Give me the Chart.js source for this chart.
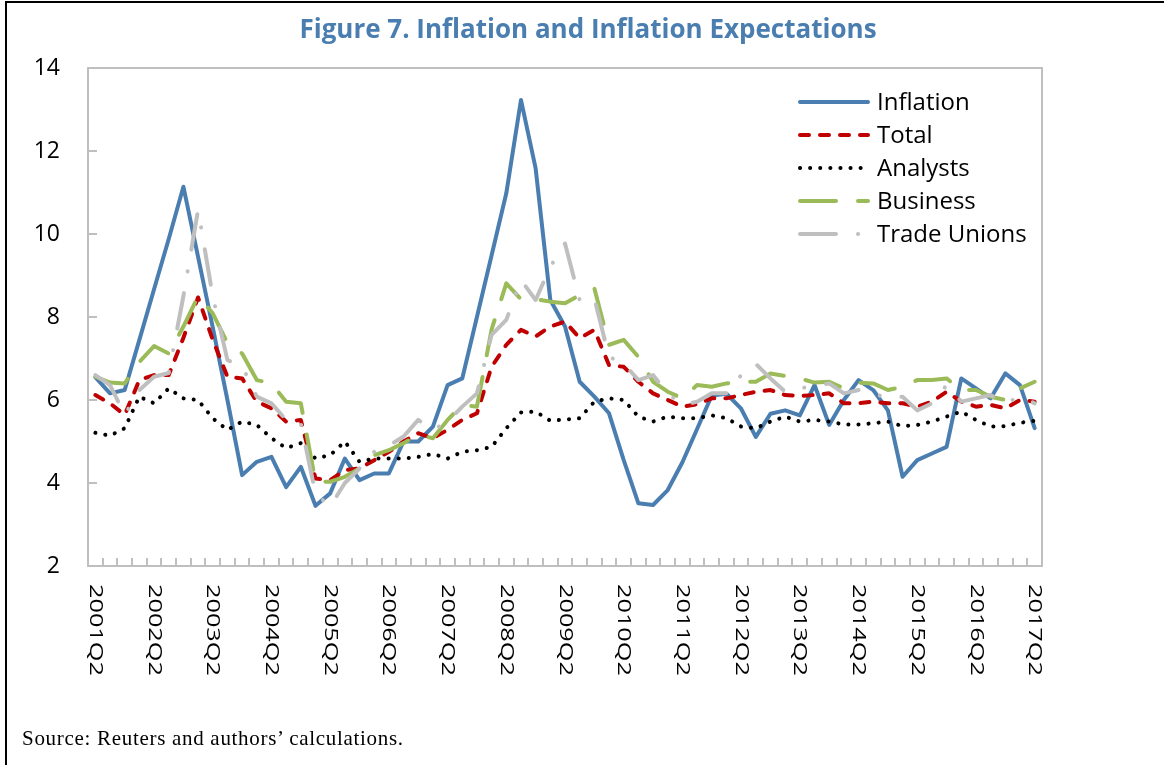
<!DOCTYPE html>
<html>
<head>
<meta charset="utf-8">
<script src="https://cdn.jsdelivr.net/npm/chart.js@4.4.0/dist/chart.umd.min.js"></script>
<style>
  body { margin: 0; background: #fff; }
  #wrap { position: relative; width: 1164px; height: 765px; overflow: hidden; }
  #frame { position: absolute; left: 5px; top: 1px; width: 1200px; height: 800px;
           border-left: 2px solid #000; border-top: 2px solid #000; }
  #title { position: absolute; left: 0; width: 1176px; top: 13px; line-height: 30px; text-align: center;
           font-family: "Open Sans", sans-serif; font-weight: bold; font-size: 26px;
           color: #4a7eb0; white-space: nowrap; }
  #source { position: absolute; left: 22px; top: 726px; letter-spacing: 0.7px;
            font-family: "Liberation Serif", "Times New Roman", serif; font-size: 21px; color: #000; }
  canvas { position: absolute; left: 0; top: 0; }
</style>
</head>
<body>
<div id="wrap">
  <canvas id="myChart" width="1164" height="765"></canvas>
  <div id="frame"></div>
  <div id="title">Figure 7. Inflation and Inflation Expectations</div>
  <div id="source">Source: Reuters and authors’ calculations.</div>
</div>
<script>
const quarters = [
  "2001Q2", "2001Q3", "2001Q4", "2002Q1", "2002Q2", "2002Q3", "2002Q4", "2003Q1",
  "2003Q2", "2003Q3", "2003Q4", "2004Q1", "2004Q2", "2004Q3", "2004Q4", "2005Q1",
  "2005Q2", "2005Q3", "2005Q4", "2006Q1", "2006Q2", "2006Q3", "2006Q4", "2007Q1",
  "2007Q2", "2007Q3", "2007Q4", "2008Q1", "2008Q2", "2008Q3", "2008Q4", "2009Q1",
  "2009Q2", "2009Q3", "2009Q4", "2010Q1", "2010Q2", "2010Q3", "2010Q4", "2011Q1",
  "2011Q2", "2011Q3", "2011Q4", "2012Q1", "2012Q2", "2012Q3", "2012Q4", "2013Q1",
  "2013Q2", "2013Q3", "2013Q4", "2014Q1", "2014Q2", "2014Q3", "2014Q4", "2015Q1",
  "2015Q2", "2015Q3", "2015Q4", "2016Q1", "2016Q2", "2016Q3", "2016Q4", "2017Q1",
  "2017Q2"
];

const inflation = [
  6.55, 6.16, 6.24, 7.45, 8.67, 9.88, 11.14, 9.45, 7.75, 6.0, 4.19, 4.51, 4.63,
  3.9, 4.39, 3.45, 3.75, 4.59, 4.07, 4.23, 4.23, 5.0, 5.0, 5.36, 6.36, 6.52,
  8.0, 9.49, 10.98, 13.23, 11.58, 8.41, 7.77, 6.44, 6.08, 5.68, 4.55, 3.51,
  3.47, 3.83, 4.5, 5.3, 6.11, 6.15, 5.79, 5.11, 5.67, 5.75, 5.63, 6.36, 5.4,
  6.0, 6.48, 6.24, 5.75, 4.15, 4.55, 4.71, 4.87, 6.52, 6.28, 6.04, 6.64, 6.36,
  5.32
];
const total = [
  6.12, 5.92, 5.64, 6.48, 6.6, 6.6, 7.5, 8.47, 7.45, 6.56, 6.52, 5.96, 5.8,
  5.48, 5.52, 4.11, 4.07, 4.31, 4.35, 4.55, 4.75, 5.0, 5.2, 5.08, 5.28, 5.52,
  5.68, 6.8, 7.33, 7.69, 7.53, 7.77, 7.89, 7.49, 7.69, 6.84, 6.8, 6.44, 6.16,
  6.0, 5.84, 5.9, 6.04, 6.04, 6.12, 6.2, 6.24, 6.12, 6.1, 6.12, 6.16, 5.92,
  5.92, 5.96, 5.92, 5.92, 5.84, 5.96, 6.2, 5.96, 5.84, 5.88, 5.8, 6.0, 5.96
];
const analysts = [
  5.21, 5.14, 5.32, 6.08, 5.92, 6.28, 6.04, 6.0, 5.56, 5.28, 5.48, 5.4, 5.08,
  4.84, 4.96, 4.59, 4.67, 5.0, 4.51, 4.59, 4.59, 4.59, 4.63, 4.7, 4.59, 4.75,
  4.79, 4.87, 5.32, 5.7, 5.72, 5.5, 5.53, 5.56, 5.96, 6.04, 6.0, 5.6, 5.48,
  5.6, 5.56, 5.56, 5.63, 5.56, 5.36, 5.32, 5.48, 5.6, 5.48, 5.52, 5.48, 5.41,
  5.41, 5.44, 5.48, 5.37, 5.4, 5.48, 5.6, 5.72, 5.52, 5.36, 5.37, 5.45, 5.5
];
const business = [
  6.56, 6.42, 6.4, 6.92, 7.3, 7.12, 7.77, 8.5, 8.09, 7.37, 7.12, 6.48, 6.4,
  5.96, 5.92, 4.03, 4.03, 4.15, 4.35, 4.67, 4.79, 4.96, 5.16, 5.08, 5.52, 5.88,
  5.84, 7.7, 8.81, 8.43, 8.43, 8.37, 8.33, 8.53, 8.69, 7.33, 7.45, 7.04, 6.44,
  6.2, 6.04, 6.36, 6.32, 6.4, 6.44, 6.44, 6.64, 6.58, 6.52, 6.42, 6.44, 6.28,
  6.42, 6.4, 6.24, 6.32, 6.48, 6.48, 6.52, 6.24, 6.24, 6.08, 6.0, 6.28, 6.44
];
const tradeUnions = [
  6.6, 6.36, 5.64, 6.24, 6.56, 6.65, 8.5, 10.58, 8.5, 6.96, 6.82, 6.08, 5.92,
  5.52, 5.44, 3.75, 3.43, 4.0, 4.35, 4.75, 4.9, 5.12, 5.52, 5.28, 5.48, 5.84,
  6.16, 7.57, 7.93, 8.89, 8.41, 9.21, 9.77, 8.41, 8.45, 7.04, 6.88, 6.48, 6.6,
  6.16, 5.88, 5.96, 6.16, 6.16, 6.6, 6.87, 6.52, 6.2, 6.28, 6.34, 6.4, 6.16,
  6.24, 6.16, 6.04, 6.08, 5.75, 5.92, 6.36, 5.96, 6.04, 6.12, 5.92, 6.08, 5.92
];

const yMin = 2;
const yMax = 14;
const yStep = 2;

const axisGray = "#bfbfbf";
const fontFamily = '"Open Sans", sans-serif';

const makeLine = (label, data, color, dash, order) => ({
  label: label,
  data: data,
  borderColor: color,
  backgroundColor: color,
  borderWidth: 4,
  borderDash: dash,
  borderCapStyle: "round",
  borderJoinStyle: "round",
  pointRadius: 0,
  tension: 0,
  fill: false,
  order: order,
});

// frame, inside ticks, rotated x labels and legend
const decorations = {
  id: "decorations",
  beforeDatasetsDraw(chart) {
    const ctx = chart.ctx;
    const area = chart.chartArea;
    const x = chart.scales.x;
    const y = chart.scales.y;
    ctx.save();
    ctx.strokeStyle = axisGray;
    ctx.lineWidth = 2;
    ctx.beginPath();
    for (let i = 1; i < quarters.length; i++) {
      const px = Math.round(x.getPixelForValue(i - 0.5));
      ctx.moveTo(px, area.bottom);
      ctx.lineTo(px, area.bottom - 8);
    }
    for (let v = yMin + yStep; v < yMax; v += yStep) {
      const py = Math.round(y.getPixelForValue(v));
      ctx.moveTo(area.left, py);
      ctx.lineTo(area.left + 9, py);
    }
    ctx.stroke();
    ctx.strokeRect(area.left, area.top, area.right - area.left, area.bottom - area.top);
    ctx.restore();
  },
  afterDraw(chart) {
    const ctx = chart.ctx;
    const area = chart.chartArea;
    const x = chart.scales.x;

    ctx.save();
    ctx.fillStyle = "#000";
    ctx.font = "19px " + fontFamily;
    ctx.textAlign = "left";
    ctx.textBaseline = "middle";
    quarters.forEach((q, i) => {
      if (i % 4 !== 0) return;
      ctx.save();
      ctx.translate(x.getPixelForValue(i), area.bottom + 18);
      ctx.rotate(Math.PI / 2);
      ctx.scale(1.33, 1);
      ctx.fillText(q, 0, 0);
      ctx.restore();
    });
    ctx.restore();

    ctx.save();
    ctx.font = "24px " + fontFamily;
    ctx.textBaseline = "middle";
    ctx.textAlign = "left";
    const lx = area.left + 712;
    chart.data.datasets.forEach((ds, k) => {
      const ly = area.top + 34 + 33 * k;
      ctx.strokeStyle = ds.borderColor;
      ctx.lineWidth = ds.borderWidth;
      ctx.lineCap = "round";
      ctx.setLineDash(ds.borderDash);
      ctx.beginPath();
      ctx.moveTo(lx, ly);
      ctx.lineTo(lx + 68, ly);
      ctx.stroke();
      ctx.setLineDash([]);
      ctx.fillStyle = "#000";
      ctx.fillText(ds.label, lx + 77, ly + 1);
    });
    ctx.restore();
  },
};

const ctx = document.getElementById("myChart").getContext("2d");
const myChart = new Chart(ctx, {
  type: "line",
  data: {
    labels: quarters,
    datasets: [
      makeLine("Inflation", inflation, "#4a7eb0", [], 5),
      makeLine("Total", total, "#c00000", [9, 11], 4),
      makeLine("Analysts", analysts, "#000000", [0.1, 10], 3),
      makeLine("Business", business, "#9bbb59", [36, 22], 2),
      makeLine("Trade Unions", tradeUnions, axisGray, [36, 22, 0.1, 22], 1),
    ],
  },
  options: {
    responsive: false,
    animation: false,
    devicePixelRatio: 1,
    layout: { padding: { left: 0, top: 68, right: 122, bottom: 0 } },
    plugins: {
      legend: { display: false },
      title: { display: false },
      tooltip: { enabled: false },
    },
    scales: {
      x: {
        type: "category",
        offset: true,
        grid: { display: false },
        border: { display: false },
        ticks: { display: false },
        afterFit: (scale) => { scale.height = 199; },
      },
      y: {
        min: yMin,
        max: yMax,
        grid: { display: false, drawTicks: false },
        border: { display: false },
        ticks: {
          stepSize: yStep,
          padding: 28,
          color: "#000",
          font: { family: fontFamily, size: 23 },
        },
        afterFit: (scale) => { scale.width = 88; },
      },
    },
  },
  plugins: [decorations],
});
</script>
</body>
</html>
